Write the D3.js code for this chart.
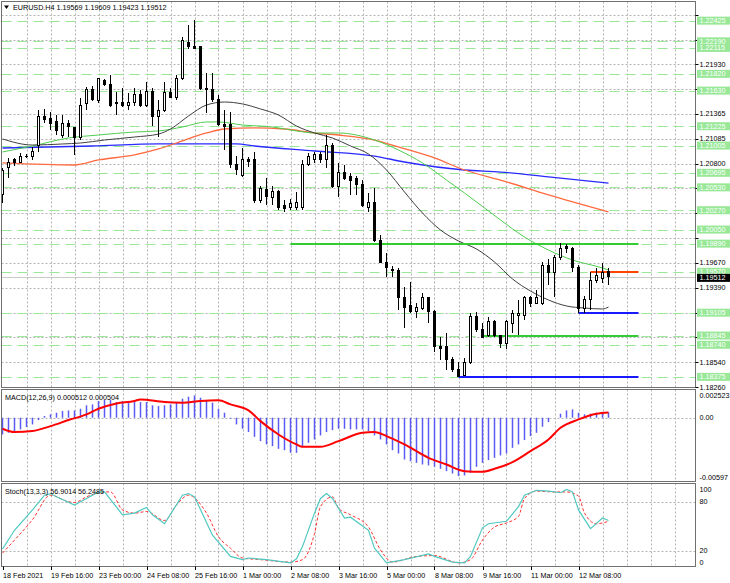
<!DOCTYPE html>
<html>
<head>
<meta charset="utf-8">
<script src="https://cdn.jsdelivr.net/npm/d3@7"></script>
<style>
body { margin: 0; background: #fff; }
text { font-family: "Liberation Sans", Arial, sans-serif; font-size: 7.2px; fill: #000; }
</style>
</head>
<body>
<div id="chart"></div>
<script>
// ---- data ----
var opens = [1.20443,1.20750,1.20841,1.20818,1.20886,1.20875,1.21000,1.21330,1.21307,1.21273,
1.21125,1.21261,1.21205,1.21091,1.21478,1.21637,1.21512,1.21750,1.21694,1.21489,
1.21489,1.21466,1.21489,1.21580,1.21466,1.21614,1.21330,1.21409,1.21603,1.21557,
1.21773,1.22182,1.22126,1.22126,1.21659,1.21637,1.21534,1.21250,1.21239,1.20795,
1.20670,1.20841,1.20841,1.20375,1.20500,1.20409,1.20477,1.20329,1.20306,1.20306,
1.20306,1.20795,1.20852,1.20909,1.20841,1.21011,1.20534,1.20693,1.20648,1.20625,
1.20557,1.20306,1.20352,1.19931,1.19670,1.19601,1.19590,1.19272,1.19181,1.19124,
1.19158,1.19272,1.19113,1.18715,1.18715,1.18567,1.18464,1.18396,1.18533,1.19056,
1.18919,1.18851,1.18999,1.18840,1.18749,1.18987,1.19078,1.19078,1.19283,1.19215,
1.19215,1.19636,1.19567,1.19727,1.19852,1.19840,1.19624,1.19147,1.19260,1.19476,
1.19488,1.19569];
var highs = [1.20750,1.20864,1.20864,1.20920,1.20909,1.20989,1.21409,1.21421,1.21387,1.21352,
1.21352,1.21296,1.21216,1.21546,1.21671,1.21682,1.21773,1.21762,1.21807,1.21614,
1.21659,1.21603,1.21659,1.21637,1.21728,1.21659,1.21523,1.21728,1.21659,1.21807,
1.22239,1.22376,1.22433,1.22137,1.21830,1.21830,1.21580,1.21409,1.21387,1.20886,
1.20977,1.20875,1.20932,1.20545,1.20636,1.20545,1.20500,1.20386,1.20397,1.20477,
1.20841,1.20920,1.20932,1.20932,1.21125,1.21034,1.20807,1.20784,1.20693,1.20659,
1.20613,1.20466,1.20522,1.19988,1.19783,1.19636,1.19613,1.19397,1.19454,1.19215,
1.19329,1.19283,1.19135,1.18828,1.18874,1.18601,1.18544,1.18590,1.19101,1.19113,
1.18987,1.19056,1.19022,1.18851,1.19022,1.19135,1.19249,1.19294,1.19294,1.19363,
1.19681,1.19715,1.19761,1.19897,1.19886,1.19852,1.19647,1.19294,1.19567,1.19613,
1.19670,1.19609];
var lows = [1.20352,1.20636,1.20773,1.20807,1.20864,1.20841,1.20932,1.21261,1.21182,1.21125,
1.21091,1.21102,1.20898,1.21068,1.21409,1.21512,1.21489,1.21682,1.21443,1.21352,
1.21443,1.21409,1.21455,1.21443,1.21443,1.21227,1.21102,1.21387,1.21546,1.21523,
1.21750,1.22103,1.22103,1.21637,1.21375,1.21500,1.21227,1.20954,1.20750,1.20670,
1.20648,1.20761,1.20352,1.20352,1.20329,1.20329,1.20272,1.20250,1.20272,1.20272,
1.20272,1.20773,1.20807,1.20807,1.20750,1.20522,1.20420,1.20613,1.20443,1.20443,
1.20306,1.20250,1.19908,1.19670,1.19511,1.19511,1.19135,1.18931,1.19101,1.19044,
1.19135,1.18987,1.18658,1.18567,1.18453,1.18430,1.18375,1.18385,1.18521,1.18885,
1.18817,1.18828,1.18828,1.18703,1.18692,1.18874,1.18851,1.19022,1.19169,1.19204,
1.19192,1.19420,1.19283,1.19704,1.19783,1.19567,1.19105,1.19101,1.19135,1.19442,
1.19442,1.19423];
var closes = [1.20727,1.20807,1.20807,1.20875,1.20875,1.20943,1.21330,1.21296,1.21261,1.21171,
1.21261,1.21216,1.21091,1.21466,1.21648,1.21534,1.21762,1.21694,1.21466,1.21478,
1.21466,1.21489,1.21580,1.21466,1.21614,1.21330,1.21409,1.21603,1.21557,1.21773,
1.22194,1.22126,1.22114,1.21659,1.21637,1.21534,1.21250,1.21227,1.20784,1.20738,
1.20841,1.20829,1.20375,1.20522,1.20431,1.20477,1.20306,1.20295,1.20341,1.20352,
1.20795,1.20886,1.20909,1.20841,1.21011,1.20534,1.20693,1.20625,1.20613,1.20557,
1.20329,1.20352,1.19931,1.19681,1.19613,1.19590,1.19272,1.19169,1.19113,1.19169,
1.19272,1.19113,1.18715,1.18703,1.18567,1.18464,1.18385,1.18533,1.19056,1.18919,
1.18828,1.18999,1.18851,1.18760,1.18999,1.19101,1.19101,1.19283,1.19215,1.19283,
1.19636,1.19567,1.19727,1.19840,1.19829,1.19613,1.19158,1.19260,1.19476,1.19533,
1.19567,1.19512];

// moving averages, sampled at bar indices
var maBlackBars = [0,5,10,13,17,22,26,28,31,34,37,40,43,46,49,52,55,58,61,64,67,70,73,76,79,82,85,88,91,94,97,100,101];
var maBlackVals = [1.21080,1.21011,1.21023,1.21034,1.21068,1.21102,1.21136,1.21193,1.21341,1.21466,1.21500,1.21478,1.21421,1.21352,1.21227,1.21148,1.21091,1.21000,1.20909,1.20727,1.20477,1.20238,1.20045,1.19920,1.19829,1.19681,1.19488,1.19351,1.19249,1.19181,1.19158,1.19147,1.19169];
var maGreenBars = [0,5,11,16,22,26,30,34,36,40,45,49,52,56,62,66,70,74,77,83,87,91,95,100,101];
var maGreenVals = [1.20932,1.21000,1.21091,1.21125,1.21159,1.21171,1.21216,1.21273,1.21273,1.21239,1.21216,1.21171,1.21148,1.21148,1.21068,1.20954,1.20807,1.20613,1.20466,1.20159,1.19965,1.19817,1.19704,1.19613,1.19590];
var maOrangeBars = [0,12,16,22,26,29,34,37,42,47,52,56,62,66,72,77,83,91,101];
var maOrangeVals = [1.20807,1.20784,1.20841,1.20898,1.20966,1.21034,1.21148,1.21193,1.21205,1.21193,1.21148,1.21125,1.21068,1.20989,1.20864,1.20727,1.20613,1.20443,1.20250];
var maBlueBars = [0,15,26,39,42,52,62,67,77,83,91,101];
var maBlueVals = [1.20977,1.21000,1.21023,1.21023,1.21000,1.20943,1.20886,1.20818,1.20727,1.20704,1.20648,1.20579];

// MACD
var macdHist = [-0.00158,-0.00142,-0.00135,-0.00110,-0.00088,-0.00063,-0.00022,0.00016,0.00032,0.00047,
0.00063,0.00069,0.00069,0.00085,0.00117,0.00126,0.00158,0.00167,0.00167,0.00148,
0.00158,0.00148,0.00148,0.00148,0.00148,0.00117,0.00110,0.00117,0.00126,0.00148,
0.00180,0.00198,0.00211,0.00189,0.00167,0.00142,0.00085,0.00047,-0.00009,-0.00063,
-0.00104,-0.00135,-0.00180,-0.00221,-0.00252,-0.00268,-0.00293,-0.00306,-0.00331,-0.00331,
-0.00268,-0.00236,-0.00205,-0.00167,-0.00135,-0.00117,-0.00104,-0.00104,-0.00110,-0.00110,
-0.00110,-0.00126,-0.00167,-0.00205,-0.00252,-0.00306,-0.00337,-0.00394,-0.00410,-0.00425,
-0.00441,-0.00450,-0.00463,-0.00482,-0.00504,-0.00526,-0.00551,-0.00545,-0.00520,-0.00463,
-0.00425,-0.00400,-0.00378,-0.00356,-0.00337,-0.00284,-0.00252,-0.00211,-0.00173,-0.00142,
-0.00085,-0.00041,0.00000,0.00038,0.00069,0.00079,0.00047,0.00032,0.00038,0.00047,
0.00054,0.00051];
var signalBars = [0,2,5,8,11,14,16,19,22,23,27,30,33,36,38,41,43,46,49,50,53,56,60,62,64,67,71,74,77,80,82,85,88,91,93,96,99,101];
var signalVals = [-0.00104,-0.00135,-0.00126,-0.00079,-0.00022,0.00032,0.00085,0.00135,0.00158,0.00173,0.00148,0.00142,0.00158,0.00164,0.00126,0.00070,-0.00032,-0.00158,-0.00252,-0.00274,-0.00274,-0.00221,-0.00142,-0.00135,-0.00173,-0.00252,-0.00378,-0.00441,-0.00504,-0.00510,-0.00482,-0.00419,-0.00315,-0.00205,-0.00095,-0.00016,0.00038,0.00050];

// Stochastic
var stochKBars = [0,2,5,7,8,9,12,14,16,17,20,22,24,25,27,30,31,32,35,38,40,41,44,48,49,50,52,53,54,55,56,57,58,61,62,64,67,71,72,75,77,78,80,81,84,86,87,88,89,91,93,94,95,96,98,100,101];
var stochKVals = [22,45,70,88,90,86,76,84,92,92,64,66,73,64,53,88,90,86,39,13,9,11,9,5,10,25,66,84,90,84,72,60,61,45,23,5,9,16,13,6,5,13,48,53,56,74,88,91,94,93,91,95,92,70,47,60,57];
var stochDBars = [0,2,5,8,11,12,14,17,18,20,22,24,27,29,31,34,36,38,40,43,48,50,52,53,55,56,58,61,63,65,69,72,76,78,80,82,84,86,87,89,92,94,96,97,99,101];
var stochDVals = [17,33,58,88,80,79,86,92,92,70,66,68,57,76,88,66,37,23,11,9,6,9,41,74,86,72,64,49,21,6,13,14,5,9,33,49,54,62,84,93,92,92,87,66,53,56];

// levels and axis labels
var priceTicks = [1.22495,1.22210,1.21930,1.21650,1.21365,1.21085,1.20800,1.20520,1.20235,1.19955,1.19670,1.19390,1.19105,1.18825,1.18540,1.18260];
var levelPrices = [1.22425,1.22190,1.22115,1.21820,1.21630,1.21225,1.21005,1.20695,1.20530,1.20270,1.20050,1.19890,1.19570,1.19105,1.18845,1.18740,1.18375];
var segPrices = [1.19890,1.19570,1.19105,1.18845,1.18375];
var segStartBars = [48,98,96,80,76];
var segColors = ["#33cc33","#ff4500","#1a1aff","#33cc33","#1a1aff"];
var lastPrice = 1.19512;
var timeLabels = ["18 Feb 2021","19 Feb 16:00","23 Feb 00:00","24 Feb 08:00","25 Feb 16:00","1 Mar 00:00","2 Mar 08:00","3 Mar 16:00","5 Mar 00:00","8 Mar 08:00","9 Mar 16:00","11 Mar 00:00","12 Mar 08:00"];
var timeLabelBars = [0,8,16,24,32,40,48,56,64,72,80,88,96];
var macdLabels = [0.002523, 0, -0.00597];
var macdLabelText = ["0.002523","0.00","-0.00597"];
var stochLabels = [100, 80, 20, 0];

// ---- layout ----
var svgWidth = 730, svgHeight = 583;
var plotLeft = 1.5, plotRight = 695.5;
var mainTop = 1.5, mainBottom = 387.5;
var macdTop = 389.5, macdBottom = 481.5;
var stochTop = 483.5, stochBottom = 566.5;
var boxH = 8;

var x = d3.scaleLinear().domain([0, 101]).range([2.5, 608.5]);
var y = d3.scaleLinear().domain([1.18260, 1.22495]).range([387, 14.5]);
var yMacd = d3.scaleLinear().domain([-0.00597, 0.002523]).range([481, 391]);
var yStoch = d3.scaleLinear().domain([0, 100]).range([567, 485.4]);

var svg = d3.select("#chart").append("svg")
  .attr("width", svgWidth)
  .attr("height", svgHeight);

svg.append("rect").attr("width", svgWidth).attr("height", svgHeight).attr("fill", "#fff");

var defs = svg.append("defs");
defs.append("clipPath").attr("id", "clipMain").append("rect")
  .attr("x", plotLeft).attr("y", mainTop).attr("width", plotRight - plotLeft).attr("height", mainBottom - mainTop);

var gridColor = "#b4b4b4";

// vertical grid in every panel
var vBars = d3.range(4, 113, 4);
[[mainTop, mainBottom], [macdTop, macdBottom], [stochTop, stochBottom]].forEach(function(p) {
  svg.append("g").selectAll("line").data(vBars).enter().append("line")
    .attr("x1", d => Math.round(x(d)) + 0.5).attr("x2", d => Math.round(x(d)) + 0.5)
    .attr("y1", p[0]).attr("y2", p[1])
    .attr("stroke", gridColor).attr("stroke-dasharray", "2,2");
});

// horizontal grid main
svg.append("g").selectAll("line").data(priceTicks).enter().append("line")
  .attr("x1", plotLeft).attr("x2", plotRight)
  .attr("y1", d => Math.round(y(d)) + 0.5).attr("y2", d => Math.round(y(d)) + 0.5)
  .attr("stroke", gridColor).attr("stroke-dasharray", "2,2");

// MACD zero / stoch 80-20 grid
svg.append("line").attr("x1", plotLeft).attr("x2", plotRight)
  .attr("y1", Math.round(yMacd(0)) + 0.5).attr("y2", Math.round(yMacd(0)) + 0.5)
  .attr("stroke", gridColor).attr("stroke-dasharray", "2,2");
svg.append("g").selectAll("line").data([80, 20]).enter().append("line")
  .attr("x1", plotLeft).attr("x2", plotRight)
  .attr("y1", d => Math.round(yStoch(d)) + 0.5).attr("y2", d => Math.round(yStoch(d)) + 0.5)
  .attr("stroke", gridColor).attr("stroke-dasharray", "2,2");

var main = svg.append("g").attr("clip-path", "url(#clipMain)");

// dashed green levels
main.append("g").selectAll("line").data(levelPrices).enter().append("line")
  .attr("x1", plotLeft).attr("x2", plotRight)
  .attr("y1", d => Math.round(y(d)) + 0.5).attr("y2", d => Math.round(y(d)) + 0.5)
  .attr("stroke", "#98e898").attr("stroke-dasharray", "10,6");

// bid line
main.append("line")
  .attr("x1", plotLeft).attr("x2", plotRight)
  .attr("y1", Math.round(y(lastPrice)) + 0.5).attr("y2", Math.round(y(lastPrice)) + 0.5)
  .attr("stroke", "#c8c8c8");

// moving averages
function maLine(bars, vals, color, w) {
  var line = d3.line()
    .x(function(d, i) { return x(bars[i]); })
    .y(function(d) { return y(d); })
    .curve(d3.curveMonotoneX);
  main.append("path").attr("d", line(vals))
    .attr("fill", "none").attr("stroke", color).attr("stroke-width", w);
}
maLine(maBlueBars, maBlueVals, "#2a2aff", 1.3);
maLine(maOrangeBars, maOrangeVals, "#ff6a40", 1.3);
maLine(maGreenBars, maGreenVals, "#50cc50", 1);
maLine(maBlackBars, maBlackVals, "#404040", 1);

// thick level segments
main.append("g").selectAll("line").data(segPrices).enter().append("line")
  .attr("x1", (d, i) => x(segStartBars[i])).attr("x2", x(106))
  .attr("y1", d => Math.round(y(d))).attr("y2", d => Math.round(y(d)))
  .attr("stroke", (d, i) => segColors[i]).attr("stroke-width", 2);

// candles
var candles = main.append("g").attr("shape-rendering", "crispEdges");
candles.selectAll(".wick").data(opens).enter().append("line")
  .attr("class", "wick")
  .attr("x1", (d, i) => x(i)).attr("x2", (d, i) => x(i))
  .attr("y1", (d, i) => y(highs[i])).attr("y2", (d, i) => y(lows[i]))
  .attr("stroke", "#000");
candles.selectAll(".body").data(opens).enter().append("rect")
  .attr("class", "body")
  .attr("x", (d, i) => x(i) - 1)
  .attr("width", 2)
  .attr("y", (d, i) => y(Math.max(d, closes[i])))
  .attr("height", (d, i) => Math.max(0.5, Math.abs(y(d) - y(closes[i]))))
  .attr("fill", (d, i) => closes[i] >= d ? "#fff" : "#000")
  .attr("stroke", "#000");

// MACD
svg.append("g").selectAll("line").data(macdHist).enter().append("line")
  .attr("x1", (d, i) => x(i)).attr("x2", (d, i) => x(i))
  .attr("y1", yMacd(0)).attr("y2", d => yMacd(d))
  .attr("stroke", "#5a5af5").attr("stroke-width", 1.5);
var sigLine = d3.line()
  .x(function(d, i) { return x(signalBars[i]); })
  .y(function(d) { return yMacd(d); })
  .curve(d3.curveMonotoneX);
svg.append("path").attr("d", sigLine(signalVals))
  .attr("fill", "none").attr("stroke", "#ff0000").attr("stroke-width", 2);

// Stochastic
var kLine = d3.line()
  .x(function(d, i) { return x(stochKBars[i]); })
  .y(function(d) { return yStoch(d); });
var dLine = d3.line()
  .x(function(d, i) { return x(stochDBars[i]); })
  .y(function(d) { return yStoch(d); })
  .curve(d3.curveMonotoneX);
svg.append("path").attr("d", dLine(stochDVals))
  .attr("fill", "none").attr("stroke", "#ff3030").attr("stroke-width", 1).attr("stroke-dasharray", "3,2");
svg.append("path").attr("d", kLine(stochKVals))
  .attr("fill", "none").attr("stroke", "#50c8c0").attr("stroke-width", 1.2);

// panel frames
[[mainTop, mainBottom], [macdTop, macdBottom], [stochTop, stochBottom]].forEach(function(p) {
  svg.append("rect")
    .attr("x", plotLeft).attr("y", p[0])
    .attr("width", plotRight - plotLeft).attr("height", p[1] - p[0])
    .attr("fill", "none").attr("stroke", "#707070");
});

// right axis: price ticks (labels hidden where a level box covers them)
svg.append("g").selectAll("line").data(priceTicks).enter().append("line")
  .attr("x1", plotRight).attr("x2", plotRight + 3)
  .attr("y1", d => Math.round(y(d)) + 0.5).attr("y2", d => Math.round(y(d)) + 0.5)
  .attr("stroke", "#000");
var covered = levelPrices.concat([lastPrice]);
var shownTicks = priceTicks.filter(function(t) {
  return !covered.some(function(l) { return Math.abs(y(t) - y(l)) < 7; });
});
svg.append("g").selectAll("text").data(shownTicks).enter().append("text")
  .attr("x", 699.5).attr("y", d => y(d))
  .attr("dominant-baseline", "central")
  .text(d => d.toFixed(5));

// level label boxes
var lvl = svg.append("g").selectAll("g").data(levelPrices).enter().append("g");
lvl.append("rect")
  .attr("x", 697).attr("y", d => y(d) - boxH / 2)
  .attr("width", 33).attr("height", boxH)
  .attr("fill", "#98e898");
lvl.append("text")
  .attr("x", 699.5).attr("y", d => y(d))
  .attr("dominant-baseline", "central")
  .style("fill", "#fff")
  .text(d => d.toFixed(5));

// last price box
svg.append("rect").attr("x", 697).attr("y", y(lastPrice) - boxH / 2 + 1)
  .attr("width", 33).attr("height", boxH).attr("fill", "#000");
svg.append("text").attr("x", 699.5).attr("y", y(lastPrice) + 1)
  .attr("dominant-baseline", "central").style("fill", "#fff")
  .text(lastPrice.toFixed(5));

// MACD axis labels
svg.append("g").selectAll("text").data(macdLabels).enter().append("text")
  .attr("x", 699.5)
  .attr("y", d => Math.min(macdBottom - 4, Math.max(macdTop + 5.5, yMacd(d))))
  .attr("dominant-baseline", "central")
  .text((d, i) => macdLabelText[i]);

// Stoch axis labels
svg.append("g").selectAll("text").data(stochLabels).enter().append("text")
  .attr("x", 699.5)
  .attr("y", d => Math.min(stochBottom - 4.5, Math.max(stochTop + 5.5, yStoch(d))))
  .attr("dominant-baseline", "central")
  .text(d => d);

// time axis
svg.append("g").selectAll("line").data(timeLabelBars).enter().append("line")
  .attr("x1", d => Math.round(x(d)) + 0.5).attr("x2", d => Math.round(x(d)) + 0.5)
  .attr("y1", stochBottom).attr("y2", stochBottom + 3.5)
  .attr("stroke", "#000");
svg.append("g").selectAll("text").data(timeLabelBars).enter().append("text")
  .attr("x", d => x(d) + 0.5).attr("y", 575.5)
  .attr("dominant-baseline", "central")
  .text((d, i) => timeLabels[i]);

// headers
svg.append("path").attr("d", "M4,5.5 L9,5.5 L6.5,9 Z").attr("fill", "#000");
svg.append("text").attr("x", 13).attr("y", 7.5).attr("dominant-baseline", "central")
  .text("EURUSD.H4  1.19569 1.19609 1.19423 1.19512");
svg.append("text").attr("x", 5).attr("y", 397).attr("dominant-baseline", "central")
  .text("MACD(12,26,9) 0.000512 0.000504");
svg.append("text").attr("x", 5).attr("y", 491).attr("dominant-baseline", "central")
  .text("Stoch(13,3,3) 56.9014 56.2485");
</script>
</body>
</html>
